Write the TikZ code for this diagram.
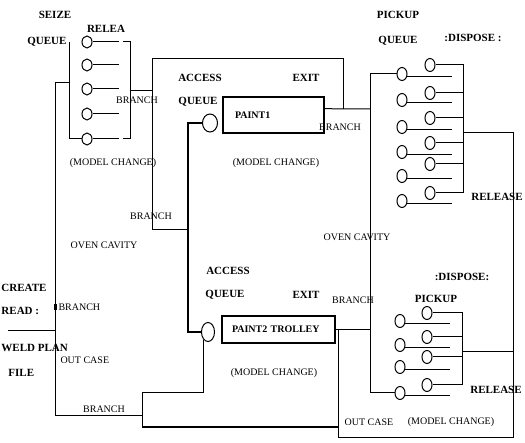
\documentclass[tikz,border=0pt]{standalone}
\usepackage{fontspec}
\setmainfont{Liberation Serif}
\usetikzlibrary{shapes.geometric}
\begin{document}
\begin{tikzpicture}[x=1pt,y=-1pt,line width=1pt,
  bl/.style={font=\fontsize{11}{12}\selectfont\bfseries, inner sep=1pt},
  lt/.style={font=\fontsize{10}{11}\selectfont, inner sep=1pt},
  sm/.style={draw, ellipse, minimum width=10pt, minimum height=13pt, inner sep=0pt},
  tl/.style={draw, ellipse, minimum width=10pt, minimum height=12pt, inner sep=0pt},
  big/.style={draw, ellipse, minimum width=15pt, minimum height=18pt, inner sep=0pt},
  pbox/.style={draw, line width=1.5pt, rectangle, inner ysep=0pt, align=left,
    font=\fontsize{10}{12}\selectfont\bfseries},
  heavy/.style={line width=1.6pt}]
\useasboundingbox (0,0) rectangle (525,443);
\fill[white] (0,0) rectangle (525,443);

% ---------- top-left seize/release group ----------
\node[bl] (seize) at (55,15) {SEIZE};
\node[bl] (relea) at (106,29) {RELEA};
\node[bl,anchor=east] (queue1) at (68,42) {QUEUE};
\foreach \i/\y in {1/42,2/65,3/89,4/114,5/139}{
  \node[tl] (s\i) at (87,\y) {};
  \draw (s\i.east) -- ++(26,0);
}
\coordinate (rb1) at (130,42);
\coordinate (rb5) at (130,139);
\coordinate (rbm) at (130,91);
\coordinate (rb1s) at (123,42);
\coordinate (rb5s) at (123,139);
\draw (rb1s) -- (rb1) -- (rb5) -- (rb5s);
\coordinate (j1) at (152,91);
\draw (rbm) -- (j1);
\node[lt] (br1) at (137,100) {BRANCH};
\coordinate (lb1) at (69,42);
\coordinate (lb5) at (69,139);
\coordinate (lb3) at (69,83);
\draw (lb1) -- (lb5) -- (s5.west);
\node[lt] (mc1) at (113,163) {(MODEL CHANGE)};

% ---------- left main line ----------
\coordinate (l1) at (55,83);
\coordinate (l2) at (55,416);
\coordinate (l3) at (55,331);
\coordinate (bx1) at (142,416);
\draw (lb3) -- (l1) -- (l2) -- (bx1);
\coordinate (cr) at (8,331);
\draw (cr) -- (l3);
\node[bl,anchor=west] (create) at (0,288) {CREATE};
\node[bl,anchor=west] (read) at (0,311) {READ :};
\node[bl,anchor=west] (weld) at (0,348) {WELD PLAN};
\node[bl,anchor=west] (file) at (7,373) {FILE};
\node[fill, minimum width=3pt, minimum height=6pt, inner sep=0pt] (sq) at (55,307) {};
\node[lt,anchor=west] (br3) at (57,307) {BRANCH};
\node[lt,anchor=west] (oc1) at (59,360) {OUT CASE};
\node[lt] (ov1) at (104,245) {OVEN CAVITY};
\node[lt] (br4) at (104,409) {BRANCH};

% ---------- branch loop around PAINT1 ----------
\coordinate (t1) at (152,59);
\coordinate (t2) at (343,59);
\coordinate (t3) at (343,109);
\coordinate (t4) at (152,230);
\coordinate (k2) at (188,230);
\draw (t3) -- (t2) -- (t1) -- (t4) -- (k2);
\node[lt] (br2) at (151,216) {BRANCH};

% ---------- PAINT1 ----------
\node[bl] (acc1) at (200,78) {ACCESS};
\node[bl] (aq1) at (198,102) {QUEUE};
\node[bl] (ex1) at (306,78) {EXIT};
\node[big] (A1) at (210,123) {};
\node[pbox, inner xsep=12pt, minimum height=36pt, text width=77pt] (p1) at (273.5,115) {PAINT1};
\node[lt] (br5) at (340,127) {BRANCH};
\node[lt] (mc2) at (276,163) {(MODEL CHANGE)};
\coordinate (pq) at (370,109);
\draw (p1.7) -- (pq);

% ---------- PAINT2 ----------
\node[bl] (acc2) at (228,271) {ACCESS};
\node[bl] (aq2) at (225,295) {QUEUE};
\node[bl] (ex2) at (306,295) {EXIT};
\node[lt] (br6) at (353,300) {BRANCH};
\node[lt] (ov2) at (357,237) {OVEN CAVITY};
\node[draw, ellipse, minimum width=13pt, minimum height=19pt, inner sep=0pt] (A2) at (208,332) {};
\node[pbox, inner xsep=10pt, minimum height=27pt, text width=93pt] (p2) at (278.5,329.5) {PAINT2 TROLLEY};
\node[lt] (mc3) at (274,373) {(MODEL CHANGE)};
\coordinate (k1) at (188,332);
\draw[heavy] (A1.west) -| (k1) -- (A2.west);

% bottom-left loop
\coordinate (bb1) at (142,393);
\coordinate (bb2) at (142,427);
\coordinate (bb3) at (338,427);
\draw (A2.240) |- (bb1) -- (bb2);
\draw[heavy] (bb2) -- (bb3);

% ---------- pickup line ----------
\coordinate (vtop) at (370,74);
\coordinate (vbot) at (370,393);
\coordinate (vmid) at (370,329.5);
\coordinate (f1) at (338,329.5);
\draw (p2.east) -- (vmid);

% ---------- top-right pickup / dispose ----------
\node[bl] (pk1) at (398,15) {PICKUP};
\node[bl] (pq1) at (398,41) {QUEUE};
\node[bl] (dp1) at (473,38) {:DISPOSE :};
\foreach \i/\y in {1/74,2/100,3/127,4/152,5/176,6/201}{
  \node[sm] (Q\i) at (402,\y) {};
  \draw (Q\i.-30) -- ++(45,0);
}
\foreach \i/\y in {1/65,2/93,3/118,4/143,5/164,6/193}{
  \node[sm] (D\i) at (430,\y) {};
  \draw (D\i.east) -- ++(28,0);
}
\coordinate (db1) at (463,65);
\coordinate (db6) at (463,193);
\coordinate (dbm) at (463,133);
\draw (db1) -- (db6);
\node[bl] (rl1) at (497,197) {RELEASE};

% ---------- bottom-right pickup / dispose ----------
\node[bl] (dp2) at (462,277) {:DISPOSE:};
\node[bl] (pk2) at (436,299) {PICKUP};
\foreach \i/\y in {1/321,2/345,3/367,4/393}{
  \node[sm] (P\i) at (400,\y) {};
  \draw (P\i.-30) -- ++(45,0);
}
\foreach \i/\y in {1/313,2/337,3/357,4/385}{
  \node[sm] (E\i) at (427,\y) {};
  \draw (E\i.east) -- ++(30,0);
}
\coordinate (eb1) at (462,313);
\coordinate (eb4) at (462,385);
\coordinate (ebm) at (462,352);
\coordinate (rr2) at (513,352);
\draw (eb1) -- (eb4);
\draw (ebm) -- (rr2);
\node[bl] (rl2) at (496,390) {RELEASE};

% pickup vertical line
\draw (Q1.west) -- (vtop) -- (vbot) -- (P4.west);

% frame
\coordinate (f2) at (338,438);
\coordinate (f3) at (513,438);
\coordinate (f4) at (513,133);
\draw (f1) -- (f2) -- (f3) -- (f4) -- (dbm);
\node[lt] (oc2) at (369,422) {OUT CASE};
\node[lt] (mc4) at (451,422) {(MODEL CHANGE)};
\end{tikzpicture}
\end{document}
